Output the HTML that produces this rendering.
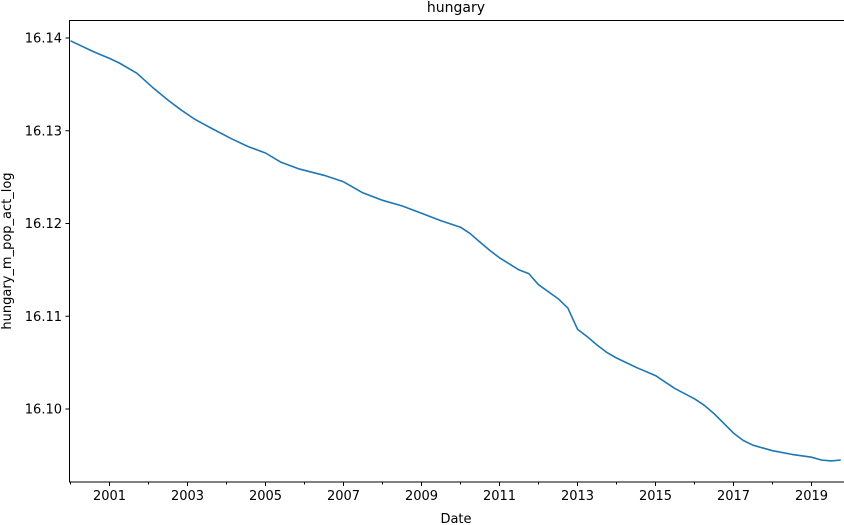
<!DOCTYPE html>
<html><head><meta charset="utf-8"><style>
body{margin:0;background:#fff;}
svg{display:block;font-family:"DejaVu Sans","Liberation Sans",sans-serif;}
</style></head><body>
<svg id="chart" width="844" height="525">
<text x="456" y="12" text-anchor="middle" font-size="14">hungary</text>
<text x="456" y="523" text-anchor="middle" font-size="13">Date</text>
<text transform="translate(11,251) rotate(-90)" text-anchor="middle" font-size="13">hungary_m_pop_act_log</text>
<g id="axes"></g>
<path id="line" fill="none" stroke="#1f77b4" stroke-width="1.6" stroke-linejoin="round"></path>
<rect x="69.5" y="20.5" width="776" height="461.5" fill="none" stroke="#000" stroke-width="1"></rect>
</svg>
<script>
const dates=[2000,2000.6,2001,2001.25,2001.7,2002.1,2002.5,2002.85,2003.2,2003.6,2004.1,2004.55,2005,2005.4,2005.85,2006.5,2007,2007.5,2008,2008.5,2009,2009.5,2010,2010.25,2010.5,2010.75,2011,2011.5,2011.75,2012,2012.5,2012.75,2013,2013.25,2013.5,2013.75,2014,2014.5,2015,2015.5,2016,2016.25,2016.5,2017,2017.25,2017.5,2018,2018.5,2019,2019.25,2019.5,2019.75];
const values=[16.1397,16.1385,16.1378,16.1373,16.1362,16.1347,16.1333,16.1322,16.1312,16.1303,16.1292,16.1283,16.1276,16.1266,16.1259,16.1252,16.1245,16.1233,16.1225,16.1219,16.1211,16.1203,16.1196,16.1189,16.1180,16.1171,16.1163,16.1150,16.1146,16.1134,16.1119,16.1109,16.1086,16.1078,16.1069,16.1061,16.1055,16.1045,16.1036,16.1022,16.1011,16.1004,16.0995,16.0974,16.0966,16.0961,16.0955,16.0951,16.0948,16.0945,16.0944,16.0945];
const xTickLabels=["2001","2003","2005","2007","2009","2011","2013","2015","2017","2019"];
const yTickLabels=["16.10","16.11","16.12","16.13","16.14"];
const NS="http://www.w3.org/2000/svg";
const x=v=>109.5+(v-2001)*39;
const y=v=>38+(16.14-v)/0.01*92.75;
const ax=document.getElementById('axes');
function mk(t,a){const e=document.createElementNS(NS,t);for(const k in a)e.setAttribute(k,a[k]);ax.appendChild(e);return e;}
for(let yr=2000;yr<=2019;yr++){
 const major=xTickLabels.includes(String(yr));
 const l=mk('line',{x1:x(yr),x2:x(yr),y1:482,y2:482+(major?4:2.5),stroke:'#000','stroke-width':1});
 
 
}
xTickLabels.forEach(s=>{
 const t=mk('text',{x:x(+s),y:500,'text-anchor':'middle','font-size':13});
 t.textContent=s;
 
 
});
yTickLabels.forEach(s=>{
 const yy=y(+s);
 const l=mk('line',{x1:65.5,x2:69.5,y1:yy,y2:yy,stroke:'#000','stroke-width':1});
 
 
 const t=mk('text',{x:62,y:yy+4.5,'text-anchor':'end','font-size':13});
 t.textContent=s;
 
 
});
document.getElementById('line').setAttribute('d',dates.map((d,i)=>(i?'L':'M')+x(d).toFixed(1)+','+y(values[i]).toFixed(1)).join(''));
</script>
</body></html>
